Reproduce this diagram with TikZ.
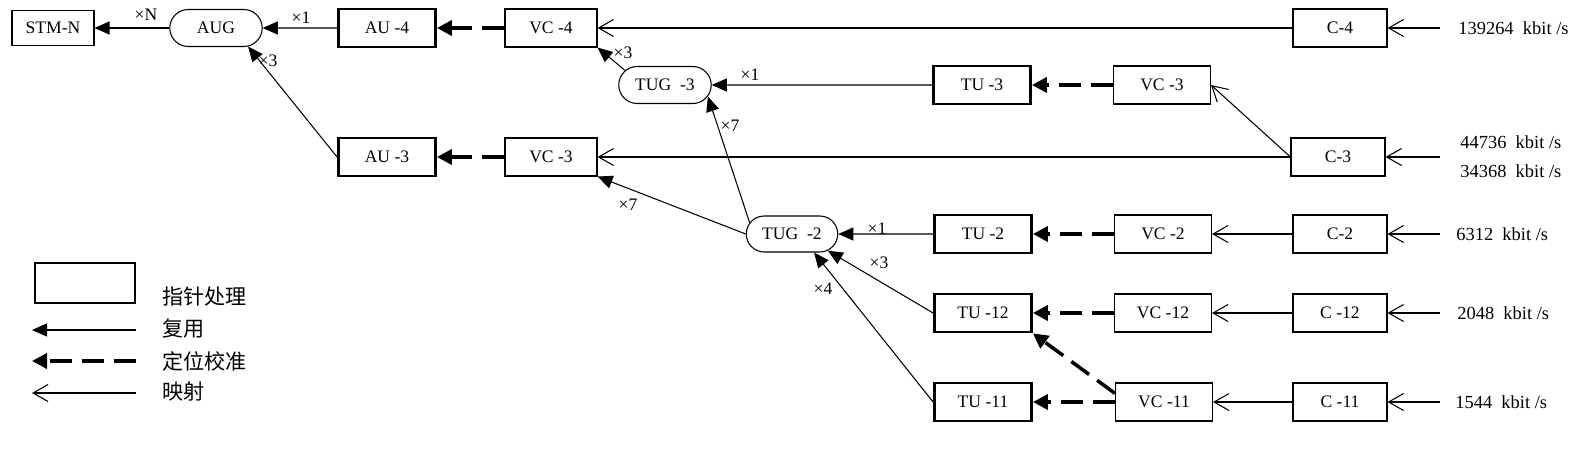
\documentclass[tikz,border=0pt]{standalone}
\usepackage{fontspec}
\setmainfont{Liberation Serif}
\newfontfamily\cjk{Noto Sans CJK SC}
\usetikzlibrary{arrows.meta,shapes.misc}

\tikzset{
  box/.style={draw, minimum width=1.94cm, minimum height=0.76cm, inner sep=1pt, line width=0.6pt},
  ptrbox/.style={box, line width=1.6pt},
  grp/.style={draw, rounded rectangle, minimum width=1.92cm, minimum height=0.74cm, inner sep=1pt, line width=0.6pt},
  mux/.style={-{Triangle[length=0.3cm,width=0.26cm]}, line width=0.6pt},
  alignln/.style={-{Triangle[length=0.3cm,width=0.3cm]}, line width=2pt, dash pattern=on 0.44cm off 0.2cm},
  mapl/.style={-{Straight Barb[length=0.3cm,width=0.34cm]}, line width=0.6pt},
  mult/.style={font=\fontsize{10}{11}\selectfont, inner sep=0pt},
  rate/.style={font=\fontsize{10.5}{16.4}\selectfont, inner sep=0pt, anchor=west, align=left},
  legtxt/.style={font=\cjk\fontsize{12}{14}\selectfont, inner sep=0pt, anchor=west},
}

\begin{document}
\begin{tikzpicture}[x=0.2mm, y=-0.2mm, font=\fontsize{10}{12}\selectfont]
    \useasboundingbox (0,0) rectangle (1573,455);

    % upper rows
    \node[box, minimum width=1.64cm, minimum height=0.7cm] (stm) at (53,28) {STM-N};
    \node[grp] (aug) at (216,28) {AUG};
    \node[ptrbox] (au4) at (387,28) {AU -4};
    \node[box, minimum width=1.84cm] (vc4) at (551,28) {VC -4};
    \node[box, minimum width=1.88cm] (c4) at (1340,28) {C-4};

    \node[grp] (tug3) at (665,85) {TUG ~-3};
    \node[ptrbox] (tu3) at (982,85) {TU -3};
    \node[box] (vc3a) at (1162,85) {VC -3};

    \node[ptrbox] (au3) at (387,157) {AU -3};
    \node[box, minimum width=1.84cm] (vc3b) at (551,157) {VC -3};
    \node[box, minimum width=1.88cm] (c3) at (1338,157) {C-3};

    % lower rows
    \node[grp, minimum width=1.9cm, minimum height=0.72cm] (tug2) at (792,234) {TUG ~-2};
    \node[ptrbox] (tu2) at (983,234) {TU -2};
    \node[box] (vc2) at (1163,234) {VC -2};
    \node[box, minimum width=1.88cm] (c2) at (1340,234) {C-2};

    \node[ptrbox] (tu12) at (983,313) {TU -12};
    \node[box] (vc12) at (1163,313) {VC -12};
    \node[box, minimum width=1.88cm] (c12) at (1340,313) {C -12};

    \node[ptrbox] (tu11) at (983,402) {TU -11};
    \node[box] (vc11) at (1164,402) {VC -11};
    \node[box, minimum width=1.88cm] (c11) at (1340,402) {C -11};

    % input rates
    \node[rate] (r4) at (1458,28) {139264~~kbit /s};
    \node[rate] (r3) at (1460,157) {44736~~kbit /s\\34368~~kbit /s};
    \node[rate] (r2) at (1456,234) {6312~~kbit /s};
    \node[rate] (r12) at (1457,313) {2048~~kbit /s};
    \node[rate] (r11) at (1455,402) {1544~~kbit /s};
    \coordinate (i4) at (1440,28);
    \coordinate (i3) at (1440,157);
    \coordinate (i2) at (1440,234);
    \coordinate (i12) at (1440,313);
    \coordinate (i11) at (1440,402);

    % mapping
    \draw[mapl] (i4) -- (c4);
    \draw[mapl] (i3) -- (c3);
    \draw[mapl] (i2) -- (c2);
    \draw[mapl] (i12) -- (c12);
    \draw[mapl] (i11) -- (c11);
    \draw[mapl] (c4) -- (vc4);
    \draw[mapl] (c3.west) -- (vc3a.east);
    \draw[mapl] (c3) -- (vc3b);
    \draw[mapl] (c2) -- (vc2);
    \draw[mapl] (c12) -- (vc12);
    \draw[mapl] (c11) -- (vc11);

    % aligning
    \draw[alignln] (vc4) -- (au4);
    \draw[alignln] (vc3a) -- (tu3);
    \draw[alignln] (vc3b) -- (au3);
    \draw[alignln] (vc2) -- (tu2);
    \draw[alignln] (vc12) -- (tu12);
    \draw[alignln] (vc11.170) -- (tu12.south east);
    \draw[alignln] (vc11) -- (tu11);

    % multiplexing
    \draw[mux] (aug) -- (stm);
    \draw[mux] (au4) -- (aug);
    \draw[mux] (au3.west) -- (aug.-30);
    \draw[mux] (tug3.160) -- (vc4.south east);
    \draw[mux] (tu3) -- (tug3);
    \draw[mux] (tug2.west) -- (vc3b.south east);
    \draw[mux] (tug2.165) -- (tug3.-15);
    \draw[mux] (tu2) -- (tug2);
    \draw[mux] (tu12.west) -- (tug2.-25);
    \draw[mux] (tu11.west) -- (tug2.-40);

    \node[mult] (mN) at (146,15) {×N};
    \node[mult] (m1a) at (301,18) {×1};
    \node[mult] (m3a) at (268,61) {×3};
    \node[mult] (m3b) at (623,53) {×3};
    \node[mult] (m1b) at (750,75) {×1};
    \node[mult] (m7a) at (730,126) {×7};
    \node[mult] (m7b) at (628,205) {×7};
    \node[mult] (m1c) at (877,229) {×1};
    \node[mult] (m3c) at (879,263) {×3};
    \node[mult] (m4) at (823,289) {×4};

    % legend
    \node[ptrbox, minimum width=2cm, minimum height=0.8cm] (legbox) at (85,283) {};
    \node[legtxt] (l1) at (162,296) {指针处理};
    \node[legtxt] (l2) at (162,329) {复用};
    \node[legtxt] (l3) at (162,361) {定位校准};
    \node[legtxt] (l4) at (162,392) {映射};
    \coordinate (a2) at (136,330);
    \coordinate (b2) at (32,330);
    \coordinate (a3) at (136,361);
    \coordinate (b3) at (32,361);
    \coordinate (a4) at (136,393);
    \coordinate (b4) at (32,393);
    \draw[mux] (a2) -- (b2);
    \draw[alignln] (a3) -- (b3);
    \draw[mapl] (a4) -- (b4);
\end{tikzpicture}
\end{document}
